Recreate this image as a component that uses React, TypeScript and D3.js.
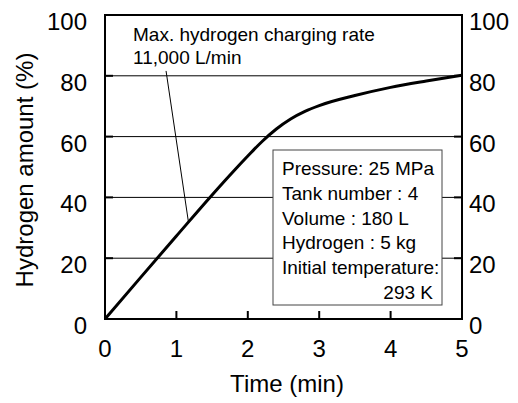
import { useEffect, useRef } from 'react';
import * as d3 from 'd3';

// Hydrogen charging curve
const timeMin = [0, 0.5, 1, 1.5, 1.8, 2.0, 2.2, 2.4, 2.6, 2.8, 3.0, 3.5, 4.0, 4.5, 5.0];
const hydrogenPct = [0, 13.7, 27.3, 40.8, 48.6, 53.6, 58.4, 62.5, 65.8, 68.3, 70.2, 73.5, 76.2, 78.3, 80.2];

const xTicks = [0, 1, 2, 3, 4, 5];
const yTicks = [0, 20, 40, 60, 80, 100];

const annotationLines = ['Max. hydrogen charging rate', '11,000 L/min'];
const leaderFrom = [0.855, 81.6];
const leaderTo = [1.168, 32.0];

const boxLines = [
  'Pressure: 25 MPa',
  'Tank number : 4',
  'Volume : 180 L',
  'Hydrogen : 5 kg',
  'Initial temperature:',
];
const boxLastLine = '293 K';

const W = 518;
const H = 403;
const margin = { left: 105, right: 56, top: 15, bottom: 84 };
const FONT = 'Liberation Sans, Arial, sans-serif';

const App = () => {
  const svgRef = useRef<SVGSVGElement>(null);

  useEffect(() => {
    if (!svgRef.current) return;
    const svg = d3.select(svgRef.current);
    svg.selectAll('*').remove();

    const x = d3.scaleLinear().domain([0, 5]).range([margin.left, W - margin.right]);
    const y = d3.scaleLinear().domain([0, 100]).range([H - margin.bottom, margin.top]);

    // gridlines
    svg
      .append('g')
      .selectAll('line')
      .data(yTicks.filter((d) => d > 0 && d < 100))
      .join('line')
      .attr('x1', x(0))
      .attr('x2', x(5))
      .attr('y1', (d) => y(d))
      .attr('y2', (d) => y(d))
      .attr('stroke', '#000')
      .attr('stroke-width', 1);

    // inward ticks
    const tickLen = 8;
    svg
      .append('g')
      .selectAll('line')
      .data(xTicks.filter((d) => d > 0 && d < 5))
      .join('line')
      .attr('x1', (d) => x(d))
      .attr('x2', (d) => x(d))
      .attr('y1', y(0))
      .attr('y2', y(0) - tickLen)
      .attr('stroke', '#000')
      .attr('stroke-width', 2);

    const inner = yTicks.filter((d) => d > 0 && d < 100);
    svg
      .append('g')
      .selectAll('line')
      .data(inner)
      .join('line')
      .attr('x1', x(0))
      .attr('x2', x(0) + tickLen)
      .attr('y1', (d) => y(d))
      .attr('y2', (d) => y(d))
      .attr('stroke', '#000')
      .attr('stroke-width', 2);
    svg
      .append('g')
      .selectAll('line')
      .data(inner)
      .join('line')
      .attr('x1', x(5))
      .attr('x2', x(5) - tickLen)
      .attr('y1', (d) => y(d))
      .attr('y2', (d) => y(d))
      .attr('stroke', '#000')
      .attr('stroke-width', 2);

    // curve
    const line = d3
      .line<number>()
      .x((_, i) => x(timeMin[i]))
      .y((d) => y(d))
      .curve(d3.curveMonotoneX);
    svg
      .append('path')
      .attr('d', line(hydrogenPct))
      .attr('fill', 'none')
      .attr('stroke', '#000')
      .attr('stroke-width', 3);

    // leader line
    svg
      .append('line')
      .attr('x1', x(leaderFrom[0]))
      .attr('y1', y(leaderFrom[1]))
      .attr('x2', x(leaderTo[0]))
      .attr('y2', y(leaderTo[1]))
      .attr('stroke', '#000')
      .attr('stroke-width', 1);

    // plot frame
    svg
      .append('rect')
      .attr('x', x(0))
      .attr('y', y(100))
      .attr('width', x(5) - x(0))
      .attr('height', y(0) - y(100))
      .attr('fill', 'none')
      .attr('stroke', '#000')
      .attr('stroke-width', 2);

    // info box
    const box = svg.append('g');
    box
      .append('rect')
      .attr('x', 273)
      .attr('y', 150)
      .attr('width', 169)
      .attr('height', 155)
      .attr('fill', '#fff')
      .attr('stroke', '#444')
      .attr('stroke-width', 1);
    box
      .selectAll('text.l')
      .data(boxLines)
      .join('text')
      .attr('class', 'l')
      .attr('x', 282)
      .attr('y', (_, i) => 175 + i * 24.8)
      .attr('font-size', 19)
      .attr('font-family', FONT)
      .text((d) => d);
    box
      .append('text')
      .attr('x', 433)
      .attr('y', 175 + 5 * 24.8)
      .attr('text-anchor', 'end')
      .attr('font-size', 19)
      .attr('font-family', FONT)
      .text(boxLastLine);

    // annotation
    svg
      .selectAll('text.ann')
      .data(annotationLines)
      .join('text')
      .attr('class', 'ann')
      .attr('x', 133)
      .attr('y', (_, i) => 41 + i * 23)
      .attr('font-size', 19)
      .attr('font-family', FONT)
      .text((d) => d);

    // tick labels
    const labels = svg.append('g').attr('font-family', FONT).attr('font-size', 24);
    labels
      .selectAll('text.yl')
      .data(yTicks)
      .join('text')
      .attr('class', 'yl')
      .attr('x', x(0) - 18)
      .attr('y', (d) => y(d) + 15)
      .attr('text-anchor', 'end')
      .text((d) => d);
    labels
      .selectAll('text.yr')
      .data(yTicks)
      .join('text')
      .attr('class', 'yr')
      .attr('x', x(5) + 7)
      .attr('y', (d) => y(d) + 15)
      .text((d) => d);
    labels
      .selectAll('text.xl')
      .data(xTicks)
      .join('text')
      .attr('class', 'xl')
      .attr('x', (d) => x(d))
      .attr('y', 357)
      .attr('text-anchor', 'middle')
      .text((d) => d);

    // axis titles
    labels
      .append('text')
      .attr('x', 287)
      .attr('y', 392)
      .attr('text-anchor', 'middle')
      .text('Time (min)');
    labels
      .append('text')
      .attr('transform', 'translate(33,170) rotate(-90)')
      .attr('text-anchor', 'middle')
      .text('Hydrogen amount (%)');
  }, []);

  return (
    <svg
      ref={svgRef}
      width={W}
      height={H}
      style={{ position: 'absolute', left: 0, top: 0, background: '#fff' }}
    />
  );
};

export default App;
